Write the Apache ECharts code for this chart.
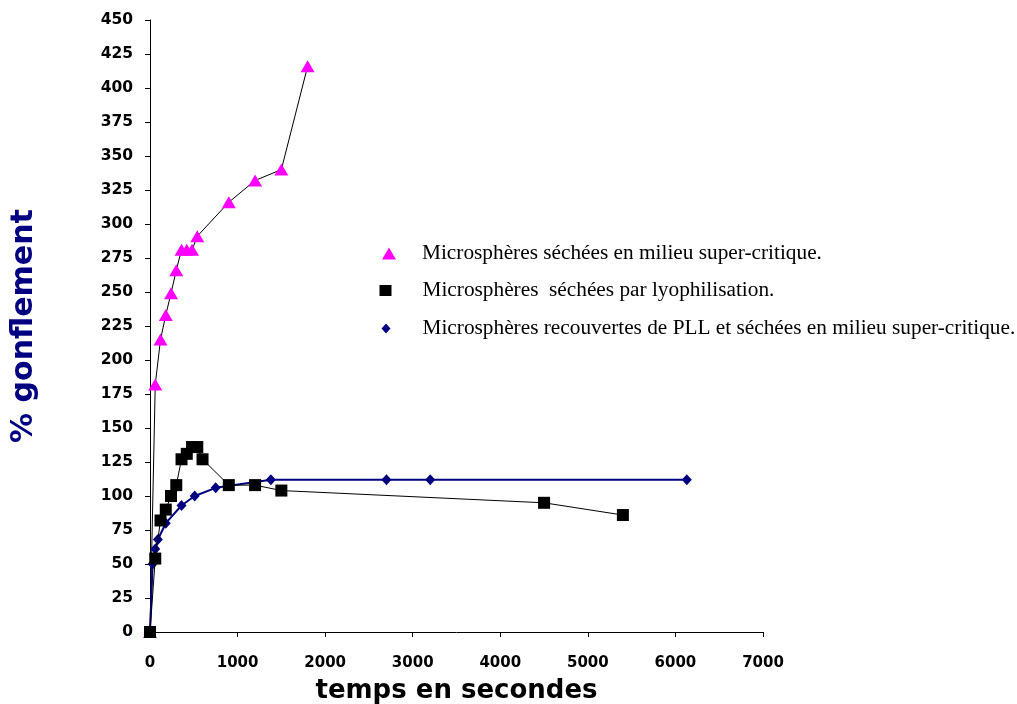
<!DOCTYPE html>
<html>
<head>
<meta charset="utf-8">
<script src="https://cdn.jsdelivr.net/npm/echarts@6/dist/echarts.min.js"></script>
<style>
    html, body { margin: 0; padding: 0; background: #fff; }
    #chart { width: 1017px; height: 704px; }
</style>
</head>
<body>
<div id="chart"></div>
<script>
// séchées en milieu super-critique (triangles roses)
const tempsSC = [0, 60, 120, 180, 240, 300, 360, 420, 480, 540, 900, 1200, 1500, 1800];
const gonfSC = [0, 182, 215, 233, 249, 266, 281, 281, 281, 291, 316, 332, 340, 416];

// séchées par lyophilisation (carrés noirs)
const tempsLyo = [0, 60, 120, 180, 240, 300, 360, 420, 480, 540, 600, 900, 1200, 1500, 4500, 5400];
const gonfLyo = [0, 54, 82, 90, 100, 108, 127, 131, 136, 136, 127, 108, 108, 104, 95, 86];

// recouvertes de PLL (losanges bleus)
const tempsPLL = [0, 30, 60, 90, 180, 360, 510, 750, 1380, 2700, 3200, 6130];
const gonfPLL = [0, 50, 61, 68, 80, 93, 100, 106, 112, 112, 112, 112];

const nomsSeries = [
    'Microsphères séchées en milieu super-critique.',
    'Microsphères  séchées par lyophilisation.',
    'Microsphères recouvertes de PLL et séchées en milieu super-critique.'
];

function paires(xs, ys) {
    return xs.map((x, i) => [x, ys[i]]);
}

const chart = echarts.init(document.getElementById('chart'));

function legendText(padLeft) {
    return {
        fontFamily: 'Liberation Serif',
        fontSize: 21.3,
        color: '#000',
        padding: [0, 0, 0, padLeft]
    };
}

const tickFont = {
    fontFamily: 'DejaVu Sans',
    fontWeight: 'bold',
    fontSize: 15.5,
    color: '#000'
};

const option = {
    animation: false,
    grid: {
        left: 150,
        right: 254,
        top: 20,
        bottom: 72,
        outerBoundsMode: 'none',
        containLabel: false
    },
    legend: [
        {
            data: [{ name: nomsSeries[0], icon: 'triangle', itemStyle: { color: '#ff00ff' } }],
            left: 377, top: 238, itemWidth: 14, itemHeight: 12,
            textStyle: legendText(21), selectedMode: false
        },
        {
            data: [{ name: nomsSeries[1], icon: 'rect', itemStyle: { color: '#000' } }],
            left: 374.5, top: 275, itemWidth: 12, itemHeight: 11,
            textStyle: legendText(26), selectedMode: false
        },
        {
            data: [{ name: nomsSeries[2], icon: 'diamond', itemStyle: { color: '#000080' } }],
            left: 376.5, top: 313, itemWidth: 9, itemHeight: 10,
            textStyle: legendText(27), selectedMode: false
        }
    ],
    xAxis: {
        type: 'value',
        min: 0,
        max: 7000,
        interval: 1000,
        name: 'temps en secondes',
        nameLocation: 'middle',
        nameGap: 46,
        nameTextStyle: {
            fontFamily: 'DejaVu Sans',
            fontWeight: 'bold',
            fontSize: 26,
            color: '#000'
        },
        axisLine: { lineStyle: { color: '#000', width: 1 } },
        axisTick: { show: true, length: 5, lineStyle: { color: '#000' } },
        axisLabel: Object.assign({
            margin: 24,
            formatter: v => String(v)
        }, tickFont, { fontSize: 15 }),
        splitLine: { show: false }
    },
    yAxis: {
        type: 'value',
        min: 0,
        max: 450,
        interval: 25,
        name: '% gonflement',
        nameLocation: 'middle',
        nameGap: 111,
        nameTextStyle: {
            fontFamily: 'DejaVu Sans',
            fontWeight: 'bold',
            fontSize: 30,
            color: '#000080'
        },
        axisLine: { show: true, lineStyle: { color: '#000', width: 1 } },
        axisTick: { show: true, length: 5, lineStyle: { color: '#000' } },
        axisLabel: Object.assign({ margin: 17 }, tickFont),
        splitLine: { show: false }
    },
    series: [
        {
            name: nomsSeries[0],
            type: 'line',
            data: paires(tempsSC, gonfSC),
            symbol: 'triangle',
            symbolSize: [14, 12],
            showAllSymbol: true,
            itemStyle: { color: '#ff00ff' },
            lineStyle: { color: '#000', width: 1 },
            z: 2
        },
        {
            name: nomsSeries[1],
            type: 'line',
            data: paires(tempsLyo, gonfLyo),
            symbol: 'rect',
            symbolSize: 12,
            showAllSymbol: true,
            itemStyle: { color: '#000' },
            lineStyle: { color: '#000', width: 1 },
            z: 4
        },
        {
            name: nomsSeries[2],
            type: 'line',
            data: paires(tempsPLL, gonfPLL),
            symbol: 'diamond',
            symbolSize: [10, 11],
            showAllSymbol: true,
            itemStyle: { color: '#000080' },
            lineStyle: { color: '#000080', width: 2 },
            z: 3
        }
    ]
};

chart.setOption(option);
</script>
</body>
</html>
